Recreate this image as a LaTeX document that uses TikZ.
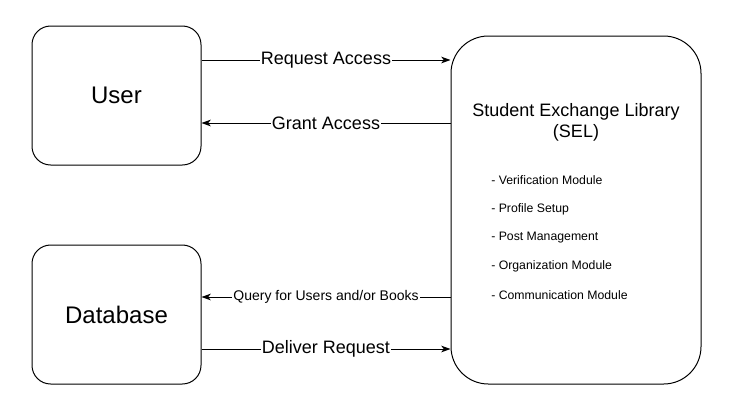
\documentclass[tikz,border=0pt]{standalone}
\usepackage{fontspec}
\setmainfont{Liberation Sans}
\usepackage{tikz}
\usetikzlibrary{arrows.meta, positioning}

\tikzset{
  entity/.style={draw, line width=0.75pt, rounded corners=14pt, minimum width=126.75pt, minimum height=104.25pt, inner sep=0pt, font=\fontsize{18}{21}\selectfont},
  system/.style={draw, line width=0.75pt, rounded corners=28pt, minimum width=187.5pt, minimum height=261pt, inner sep=0pt},
  flow/.style={-{Stealth[length=7pt, width=5pt, inset=2pt]}, line width=0.75pt},
  flowlabel/.style={fill=white, inner sep=1pt, font=\fontsize{13.5}{15}\selectfont},
  module/.style={anchor=west, inner sep=0pt, font=\fontsize{9.2}{11}\selectfont}
}

\begin{document}
\begin{tikzpicture}[x=0.75pt, y=-0.75pt]
\useasboundingbox (0,0) rectangle (740,419);

% External entities
\node[entity] (user) at (116.5,95.5) {User};
\node[entity] (db) at (116.5,314.5) {Database};

% System
\node[system] (sel) at (576,210) {};
\node[align=center, font=\fontsize{13.5}{15.75}\selectfont] (title) at (576,122) {Student Exchange Library\\(SEL)};
\node[module] (m1) at (491,180) {- Verification Module};
\node[module] (m2) at (491,209) {- Profile Setup};
\node[module] (m3) at (491,238) {- Post Management};
\node[module] (m4) at (491,266) {- Organization Module};
\node[module] (m5) at (491,295) {- Communication Module};

% Flows between user and system
\draw[flow] (user.east |- 0,60) -- node[flowlabel] {Request Access} (sel.west |- 0,60);
\draw[flow] (sel.west |- 0,123) -- node[flowlabel] {Grant Access} (user.east |- 0,123);

% Flows between database and system
\draw[flow] (sel.west |- 0,297) -- node[flowlabel, font=\fontsize{10.5}{12}\selectfont] {Query for Users and/or Books} (db.east |- 0,297);
\draw[flow] (db.east |- 0,349) -- node[flowlabel] {Deliver Request} (sel.west |- 0,349);
\end{tikzpicture}
\end{document}
